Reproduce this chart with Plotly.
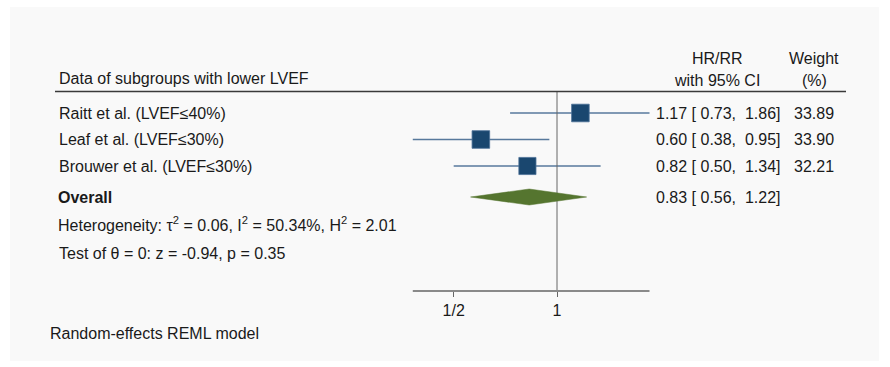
import numpy as np
import plotly.graph_objects as go

# Study-level estimates (hazard / risk ratios with 95% CI)
studies = ["Raitt et al. (LVEF≤40%)", "Leaf et al. (LVEF≤30%)", "Brouwer et al. (LVEF≤30%)"]
hr = [1.17, 0.60, 0.82]
ci_lo = [0.73, 0.38, 0.50]
ci_hi = [1.86, 0.95, 1.34]
weights = [33.89, 33.90, 32.21]

# Pooled random-effects estimate
overall_hr = 0.83
overall_lo = 0.56
overall_hi = 1.22

heterogeneity = "Heterogeneity: τ<sup>2</sup> = 0.06, I<sup>2</sup> = 50.34%, H<sup>2</sup> = 2.01"
test_text = "Test of θ = 0: z = -0.94, p = 0.35"
model_text = "Random-effects REML model"

tick_vals = [0.5, 1]
tick_text = ["1/2", "1"]

W, H = 890, 367
FONT = "Liberation Sans, Arial, Helvetica, sans-serif"
TXT = "#1a1a1a"
NAVY = "#1a476f"
CI_COL = "#57799c"
GREEN = "#55752f"

# Row layout: row units on the y axis (reversed)
ROW_PX0, ROW_STEP = 113.0, 26.5
def row_of(py):
    return 1 + (py - ROW_PX0) / ROW_STEP

rows = list(range(1, len(studies) + 1))
overall_row = row_of(197)
top_row = row_of(91.5)
axis_row = row_of(291)

# x: log scale, 1 sits at 557 px, 343.2 px per decade
X_ONE, X_DEC = 557.0, 343.2
x_range = [(0 - X_ONE) / X_DEC, (W - X_ONE) / X_DEC]
y_range = [row_of(H), row_of(0)]

def px(x):
    return x / W

def py(y):
    return 1 - y / H

fig = go.Figure()

# confidence intervals
for r, lo, hi in zip(rows, ci_lo, ci_hi):
    fig.add_trace(go.Scatter(x=[lo, hi], y=[r, r], mode="lines",
                             line=dict(color=CI_COL, width=1.6),
                             hoverinfo="skip", showlegend=False))

# reference line at 1
fig.add_trace(go.Scatter(x=[1, 1], y=[top_row, axis_row], mode="lines",
                         line=dict(color="#666666", width=1),
                         hoverinfo="skip", showlegend=False))

# study markers, area proportional to weight
sizes = [17.6 * np.sqrt(w / max(weights)) for w in weights]
fig.add_trace(go.Scatter(x=hr, y=rows, mode="markers",
                         marker=dict(symbol="square", size=sizes, color=NAVY, opacity=1,
                                     line=dict(color="#4f7399", width=0.8)),
                         hoverinfo="skip", showlegend=False))

# overall diamond
dh = 8.0 / ROW_STEP
fig.add_trace(go.Scatter(x=[overall_lo, overall_hr, overall_hi, overall_hr, overall_lo],
                         y=[overall_row, overall_row - dh, overall_row, overall_row + dh, overall_row],
                         mode="lines", fill="toself", fillcolor=GREEN,
                         line=dict(color=GREEN, width=0.5),
                         hoverinfo="skip", showlegend=False))

# axis line spanning the data range
fig.add_trace(go.Scatter(x=[min(ci_lo), max(ci_hi)], y=[axis_row, axis_row], mode="lines",
                         line=dict(color="#8a8a8a", width=1.8),
                         hoverinfo="skip", showlegend=False))

ann = []

def text(x, y, s, anchor="left", size=16, yref="paper", bold=False):
    if bold:
        s = "<b>" + s + "</b>"
    ann.append(dict(x=px(x), y=y, xref="paper", yref=yref, text=s, showarrow=False,
                    xanchor=anchor, yanchor="middle",
                    font=dict(family=FONT, size=size, color=TXT)))

# headers
text(57, py(79), "Data of subgroups with lower LVEF")
text(717, py(58), "HR/RR", anchor="center")
text(717, py(80), "with 95% CI", anchor="center")
text(814, py(58), "Weight", anchor="center")
text(814, py(80), "(%)", anchor="center")

NB = "\u00a0"
def fmt_ci(e, lo, hi):
    return f"{e:.2f} [{NB}{lo:.2f},{NB}{NB}{hi:.2f}]"

for r, name, e, lo, hi, w in zip(rows, studies, hr, ci_lo, ci_hi, weights):
    text(57, r, name, yref="y")
    text(654, r, fmt_ci(e, lo, hi), yref="y")
    text(792, r, f"{w:.2f}", yref="y")

text(56, overall_row, "Overall", yref="y", bold=True)
text(654, overall_row, fmt_ci(overall_hr, overall_lo, overall_hi), yref="y")
text(56, py(224), heterogeneity)
text(57, py(253), test_text)
text(48, py(333), model_text)

shapes = [
    # panel background
    dict(type="rect", xref="paper", yref="paper", x0=px(10), x1=px(879), y0=py(361), y1=py(7),
         fillcolor="#f9f9f9", line=dict(width=0), layer="below"),
    # header rule
    dict(type="line", xref="paper", yref="paper", x0=px(55), x1=px(846), y0=py(91.5), y1=py(91.5),
         line=dict(color="#3a3a3a", width=1.5)),
]

fig.update_layout(
    width=W, height=H,
    margin=dict(l=0, r=0, t=0, b=0),
    paper_bgcolor="white",
    plot_bgcolor="rgba(0,0,0,0)",
    annotations=ann,
    shapes=shapes,
    xaxis=dict(type="log", range=x_range, domain=[0, 1], anchor="free", position=py(291),
               showgrid=False, zeroline=False, showline=False,
               ticks="outside", ticklen=5, tickwidth=1.2, tickcolor="#666666",
               tickvals=tick_vals, ticktext=tick_text,
               tickfont=dict(family=FONT, size=16, color=TXT)),
    yaxis=dict(range=y_range, domain=[0, 1], showgrid=False, zeroline=False,
               showline=False, showticklabels=False, ticks=""),
)

fig.write_html("out.html")
